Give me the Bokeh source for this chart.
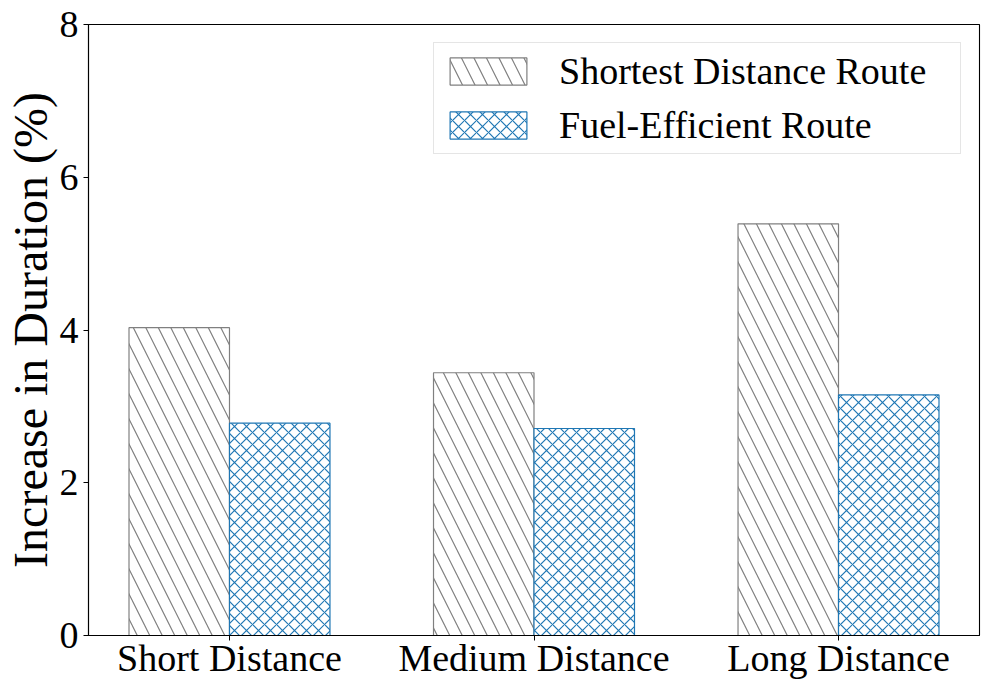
from bokeh.plotting import figure
from bokeh.models import ColumnDataSource, FixedTicker, Range1d, Legend, LegendItem
from bokeh.transform import dodge
from bokeh.embed import file_html
from bokeh.resources import INLINE
import numpy as np

categories = ["Short Distance", "Medium Distance", "Long Distance"]
shortest_route = [4.03, 3.44, 5.39]
fuel_efficient_route = [2.78, 2.71, 3.15]
series_names = ["Shortest Distance Route", "Fuel-Efficient Route"]
y_ticks = [0, 2, 4, 6, 8]

FONT = "Liberation Serif"
bar_w = 0.33

src = ColumnDataSource(dict(
    x=list(np.arange(len(categories), dtype=float)),
    shortest=shortest_route,
    fuel=fuel_efficient_route,
))

p = figure(width=981, height=682, output_backend="svg", toolbar_location=None,
           x_range=Range1d(-0.463, 2.463), y_range=Range1d(0, 8),
           min_border_left=87, min_border_top=24, min_border_right=2, min_border_bottom=47)

r1 = p.vbar(x=dodge("x", -bar_w / 2), top="shortest", width=bar_w, source=src,
            fill_color="white", line_color="#808080", line_width=1.2,
            hatch_pattern="left_diagonal_line", hatch_color="#808080",
            hatch_scale=25, hatch_weight=1.2)
r2 = p.vbar(x=dodge("x", bar_w / 2), top="fuel", width=bar_w, source=src,
            fill_color="white", line_color="#1f77b4", line_width=1.2,
            hatch_pattern="diagonal_cross", hatch_color="#1f77b4",
            hatch_scale=12, hatch_weight=1.2)

p.xgrid.visible = False
p.ygrid.visible = False
p.outline_line_color = "black"
p.outline_line_width = 1.1

p.xaxis.ticker = FixedTicker(ticks=list(range(len(categories))))
p.xaxis.major_label_overrides = {i: c for i, c in enumerate(categories)}
p.yaxis.ticker = FixedTicker(ticks=y_ticks)
p.yaxis.axis_label = "Increase in Duration (%)"

for ax in (p.xaxis[0], p.yaxis[0]):
    ax.major_label_text_font = FONT
    ax.major_label_text_font_size = "38px"
    ax.major_label_text_color = "black"
    ax.axis_line_color = "black"
    ax.axis_line_width = 1.1
    ax.major_tick_line_color = "black"
    ax.major_tick_out = 5
    ax.major_tick_in = 0
    ax.minor_tick_line_color = None
p.yaxis.axis_label_text_font = FONT
p.yaxis.axis_label_text_font_size = "48px"
p.yaxis.axis_label_text_font_style = "normal"
p.yaxis.axis_label_text_color = "black"
p.yaxis.axis_label_standoff = 0
p.yaxis.major_label_standoff = 5
p.xaxis.major_label_standoff = -4

legend = Legend(items=[LegendItem(label=series_names[0], renderers=[r1]),
                       LegendItem(label=series_names[1], renderers=[r2])],
                location="top_right")
legend.label_text_font = FONT
legend.label_text_font_size = "38px"
legend.label_text_color = "black"
legend.glyph_width = 96
legend.glyph_height = 34
legend.label_standoff = 23
legend.label_width = 395
legend.padding = 6
legend.spacing = 10
legend.margin = 18
legend.border_line_color = "#cccccc"
legend.border_line_width = 1
legend.background_fill_alpha = 0.8
p.add_layout(legend)

open("out.html", "w").write(file_html(p, INLINE))
